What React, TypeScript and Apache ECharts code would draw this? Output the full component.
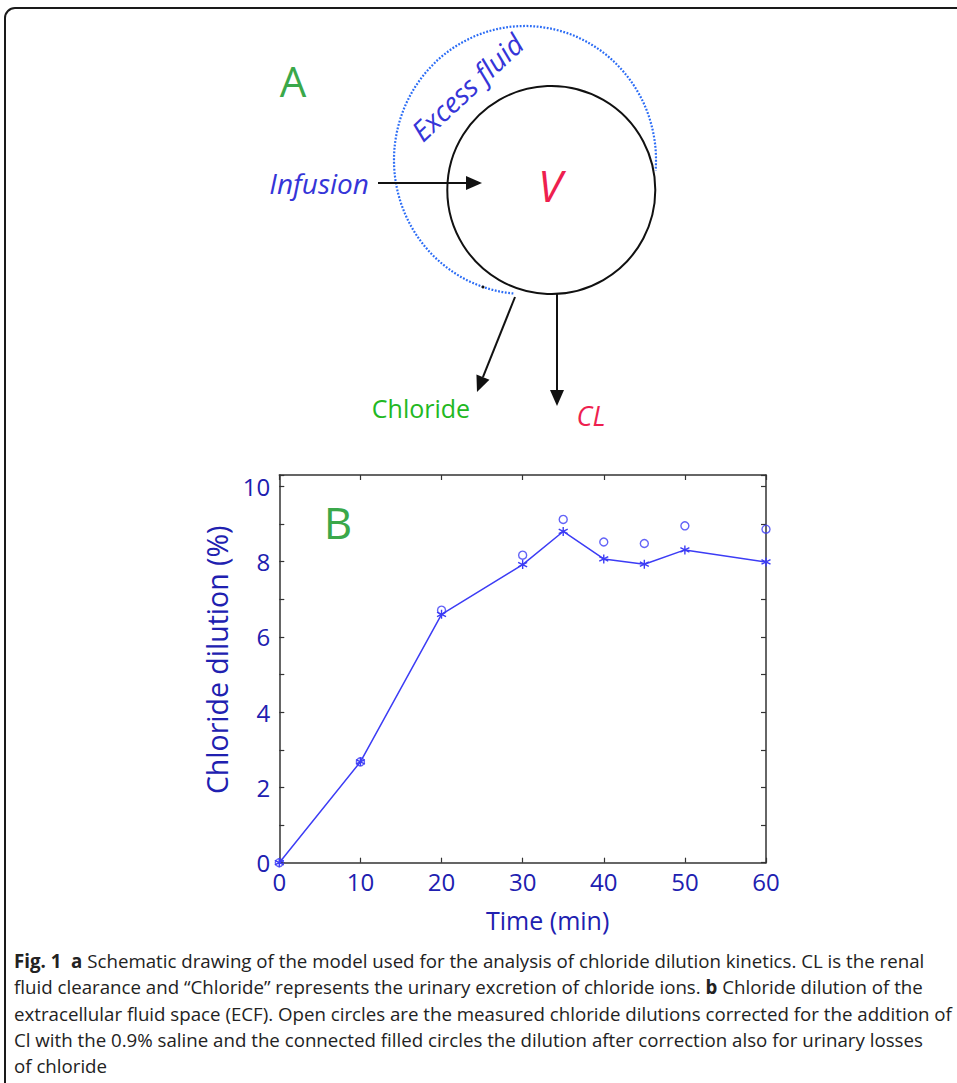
import React, { useEffect, useRef } from "react";
import * as echarts from "echarts";

// ---- data ----
const timeMin = [0, 10, 20, 30, 35, 40, 45, 50, 60];
const correctedDilution = [0, 2.68, 6.6, 7.92, 8.8, 8.07, 7.93, 8.31, 7.99]; // connected asterisks
const measuredDilution = [0, 2.68, 6.71, 8.17, 9.12, 8.52, 8.48, 8.95, 8.86]; // open circles
const xAxisTitle = "Time (min)";
const yAxisTitle = "Chloride dilution (%)";
const captionLines = [
  "{b|Fig. 1}  {b|a} Schematic drawing of the model used for the analysis of chloride dilution kinetics. CL is the renal",
  "fluid clearance and \u201cChloride\u201d represents the urinary excretion of chloride ions. {b|b} Chloride dilution of the",
  "extracellular fluid space (ECF). Open circles are the measured chloride dilutions corrected for the addition of",
  "Cl with the 0.9% saline and the connected filled circles the dilution after correction also for urinary losses",
  "of chloride",
];

const FONT = '"Open Sans", "Noto Sans", sans-serif';
const LABEL_BLUE = "#2020b0";
const LINE_BLUE = "#3c3cf5";
const GREEN = "#3aa84a";
const RED = "#ee1f4f";
const TEXT_BLUE = "#3535d8";

const ASTERISK = "path://M5,0L5,10M0.67,2.5L9.33,7.5M0.67,7.5L9.33,2.5";

function arrowHead(tx: number, ty: number, fx: number, fy: number, len = 16, half = 7) {
  const dx = tx - fx;
  const dy = ty - fy;
  const d = Math.sqrt(dx * dx + dy * dy);
  const ux = dx / d;
  const uy = dy / d;
  const bx = tx - ux * len;
  const by = ty - uy * len;
  const px = -uy * half;
  const py = ux * half;
  return {
    base: [bx, by],
    points: [
      [tx, ty],
      [bx + px, by + py],
      [bx - px, by - py],
    ],
  };
}

export default function App() {
  const ref = useRef<HTMLDivElement>(null);
  useEffect(() => {
    if (!ref.current) return;
    const chart = echarts.init(ref.current, null, { renderer: "svg" });

    const axisLine = { show: true, onZero: false, lineStyle: { color: "#333", width: 1.5 } };
    const axisTick = { show: true, inside: true, length: 5, lineStyle: { color: "#333", width: 1.2 } };

    const infusion = arrowHead(482, 183, 378, 183);
    const chlorideArrow = arrowHead(477, 392, 515, 297);
    const clArrow = arrowHead(557, 406, 557, 294);

    const graphics: any[] = [
      {
        type: "rect",
        shape: { x: 5, y: 8, width: 1000, height: 1100, r: 10 },
        style: { fill: "none", stroke: "#1a1a1a", lineWidth: 2 },
        silent: true,
      },
      // dotted excess fluid boundary
      {
        type: "arc",
        x: 525,
        y: 160,
        scaleY: 134 / 131,
        shape: { cx: 0, cy: 0, r: 131, startAngle: 1.66, endAngle: Math.PI * 2 + 0.08, clockwise: true },
        style: { fill: "none", stroke: "#2b6cf5", lineWidth: 2.2, lineDash: [1.8, 1.6] },
        silent: true,
      },
      {
        type: "circle",
        shape: { cx: 551.3, cy: 190, r: 104 },
        style: { fill: "none", stroke: "#111", lineWidth: 2 },
        silent: true,
      },
      {
        type: "circle",
        shape: { cx: 483, cy: 287, r: 1.5 },
        style: { fill: "#111" },
        silent: true,
      },
      // arrows
      {
        type: "line",
        shape: { x1: 378, y1: 183, x2: infusion.base[0], y2: infusion.base[1] },
        style: { stroke: "#111", lineWidth: 2 },
      },
      { type: "polygon", shape: { points: infusion.points }, style: { fill: "#111" } },
      {
        type: "line",
        shape: { x1: 515, y1: 297, x2: chlorideArrow.base[0], y2: chlorideArrow.base[1] },
        style: { stroke: "#111", lineWidth: 2 },
      },
      { type: "polygon", shape: { points: chlorideArrow.points }, style: { fill: "#111" } },
      {
        type: "line",
        shape: { x1: 557, y1: 294, x2: clArrow.base[0], y2: clArrow.base[1] },
        style: { stroke: "#111", lineWidth: 2 },
      },
      { type: "polygon", shape: { points: clArrow.points }, style: { fill: "#111" } },
      // labels of diagram
      {
        type: "text",
        x: 293,
        y: 80,
        style: { text: "A", fill: GREEN, fontSize: 42, fontFamily: FONT, align: "center", verticalAlign: "middle" },
      },
      {
        type: "text",
        x: 550,
        y: 185,
        style: { text: "V", fill: RED, fontSize: 44, fontStyle: "italic", fontFamily: FONT, align: "center", verticalAlign: "middle" },
      },
      {
        type: "text",
        x: 369,
        y: 183,
        style: { text: "Infusion", fill: TEXT_BLUE, fontSize: 28, fontStyle: "italic", fontFamily: FONT, align: "right", verticalAlign: "middle" },
      },
      {
        type: "text",
        x: 467,
        y: 87,
        rotation: (43 * Math.PI) / 180,
        style: { text: "Excess fluid", fill: TEXT_BLUE, fontSize: 28, fontStyle: "italic", fontFamily: FONT, align: "center", verticalAlign: "middle" },
      },
      {
        type: "text",
        x: 421,
        y: 408,
        style: { text: "Chloride", fill: "#22b822", fontSize: 25, fontFamily: FONT, align: "center", verticalAlign: "middle" },
      },
      {
        type: "text",
        x: 591,
        y: 415,
        style: { text: "CL", fill: RED, fontSize: 27, fontStyle: "italic", fontFamily: FONT, align: "center", verticalAlign: "middle" },
      },
      {
        type: "text",
        x: 338,
        y: 522,
        style: { text: "B", fill: GREEN, fontSize: 44, fontFamily: FONT, align: "center", verticalAlign: "middle" },
      },
    ];

    const captionY = [960, 986, 1013, 1039, 1065];
    captionLines.forEach((line, i) => {
      graphics.push({
        type: "text",
        x: 14,
        y: captionY[i],
        style: {
          text: line,
          fill: "#222",
          fontSize: 18.7,
          fontFamily: FONT,
          align: "left",
          verticalAlign: "middle",
          rich: { b: { fontWeight: "bold", fontSize: 18.7, fontFamily: FONT, fill: "#222" } },
        },
      });
    });

    chart.setOption({
      animation: false,
      backgroundColor: "#fff",
      grid: { left: 279.3, top: 475, width: 486.7, height: 387.7, containLabel: false },
      xAxis: [
        {
          type: "value",
          min: 0,
          max: 60,
          interval: 10,
          position: "bottom",
          axisLine,
          axisTick,
          splitLine: { show: false },
          axisLabel: { color: LABEL_BLUE, fontSize: 24, fontFamily: FONT, margin: 7 },
          name: xAxisTitle,
          nameLocation: "middle",
          nameGap: 45,
          nameTextStyle: { color: LABEL_BLUE, fontSize: 25, fontFamily: FONT, padding: [0, 0, 0, 50] },
        },
        {
          type: "value",
          min: 0,
          max: 60,
          interval: 10,
          position: "top",
          axisLine,
          axisTick,
          splitLine: { show: false },
          axisLabel: { show: false },
        },
      ],
      yAxis: [
        {
          type: "value",
          min: 0,
          max: 10.3,
          interval: 1,
          position: "left",
          axisLine,
          axisTick,
          splitLine: { show: false },
          axisLabel: {
            color: LABEL_BLUE,
            fontSize: 24,
            fontFamily: FONT,
            margin: 9,
            formatter: (v: number) => (Math.abs(v % 2) < 1e-9 ? String(v) : ""),
          },
          name: yAxisTitle,
          nameLocation: "middle",
          nameGap: 44,
          nameTextStyle: { color: LABEL_BLUE, fontSize: 28.5, fontFamily: FONT, padding: [0, 0, 0, 18] },
        },
        {
          type: "value",
          min: 0,
          max: 10.3,
          interval: 1,
          position: "right",
          axisLine,
          axisTick,
          splitLine: { show: false },
          axisLabel: { show: false },
        },
      ],
      series: [
        {
          type: "line",
          name: "Corrected for urinary losses",
          data: timeMin.map((t, i) => [t, correctedDilution[i]]),
          symbol: ASTERISK,
          symbolSize: 9,
          showAllSymbol: true,
          clip: false,
          lineStyle: { color: LINE_BLUE, width: 1.5 },
          itemStyle: { color: LINE_BLUE, borderColor: LINE_BLUE, borderWidth: 1.4 },
          z: 3,
        },
        {
          type: "scatter",
          name: "Measured",
          data: timeMin.map((t, i) => [t, measuredDilution[i]]),
          symbol: "circle",
          symbolSize: 8,
          clip: false,
          itemStyle: { color: "rgba(0,0,0,0)", borderColor: LINE_BLUE, borderWidth: 1.4 },
          z: 4,
        },
      ],
      graphic: graphics,
    });

    return () => chart.dispose();
  }, []);

  return <div ref={ref} style={{ position: "absolute", left: 0, top: 0, width: 957, height: 1083 }} />;
}
